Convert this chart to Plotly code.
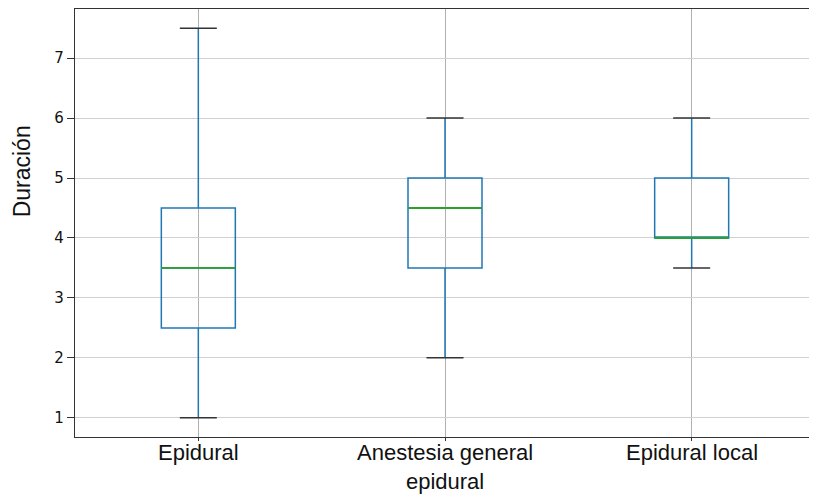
import plotly.graph_objects as go

categories = ["Epidural", "Anestesia general<br>epidural", "Epidural local"]
whisker_low = [1.0, 2.0, 3.5]
q1 = [2.5, 3.5, 4.0]
median = [3.5, 4.5, 4.0]
q3 = [4.5, 5.0, 5.0]
whisker_high = [7.5, 6.0, 6.0]
y_ticks = [1, 2, 3, 4, 5, 6, 7]

positions = list(range(len(categories)))
box_w = 0.3
cap_w = 0.15

fig = go.Figure()
fig.add_trace(go.Box(
    x=positions, q1=q1, median=median, q3=q3,
    lowerfence=whisker_low, upperfence=whisker_high,
    width=box_w, whiskerwidth=0,
    line=dict(color="#1f77b4", width=1.5),
    fillcolor="rgba(0,0,0,0)",
    boxpoints=False, showlegend=False, hoverinfo="skip",
))

# medians (green)
mx, my = [], []
for p, m in zip(positions, median):
    mx += [p - box_w / 2, p + box_w / 2, None]
    my += [m, m, None]
fig.add_trace(go.Scatter(x=mx, y=my, mode="lines",
                         line=dict(color="#2ca02c", width=1.8),
                         showlegend=False, hoverinfo="skip"))

# caps (black)
cx, cy = [], []
for p, lo, hi in zip(positions, whisker_low, whisker_high):
    cx += [p - cap_w / 2, p + cap_w / 2, None, p - cap_w / 2, p + cap_w / 2, None]
    cy += [lo, lo, None, hi, hi, None]
fig.add_trace(go.Scatter(x=cx, y=cy, mode="lines",
                         line=dict(color="#333333", width=1.5),
                         showlegend=False, hoverinfo="skip"))

annotations = [dict(
    text="Duración", xref="paper", yref="paper", x=-0.072, y=0.62,
    xanchor="center", yanchor="middle", textangle=-90, showarrow=False,
    font=dict(family="Liberation Sans", size=23, color="#111111"),
)]
for p, label in zip(positions, categories):
    annotations.append(dict(
        text=label, xref="x", yref="paper", x=p, y=0, yshift=-2,
        xanchor="center", yanchor="top", showarrow=False, borderpad=0,
        font=dict(family="Liberation Sans", size=22, color="#111111"),
    ))

fig.update_layout(
    width=809, height=487,
    margin=dict(l=67, r=2, t=1, b=58),
    paper_bgcolor="white", plot_bgcolor="white",
    font=dict(family="DejaVu Sans", color="#222222"),
    annotations=annotations,
)
fig.update_xaxes(
    range=[-0.5, 2.5], tickvals=positions, showticklabels=False,
    showgrid=True, gridcolor="#b0b0b0", gridwidth=1,
    showline=True, linecolor="#333333", linewidth=1.3, mirror=True,
    ticks="outside", ticklen=3, tickcolor="#333333",
    zeroline=False, automargin=False,
)
fig.update_yaxes(
    range=[0.68, 7.82], tickvals=y_ticks,
    showgrid=True, gridcolor="#d0d0d0", gridwidth=1,
    showline=True, linecolor="#333333", linewidth=1.3, mirror=True,
    ticks="outside", ticklen=7, tickcolor="#333333",
    tickfont=dict(family="DejaVu Sans", size=15, color="#111111"),
    zeroline=False, automargin=False,
)

fig.write_html("out.html")
